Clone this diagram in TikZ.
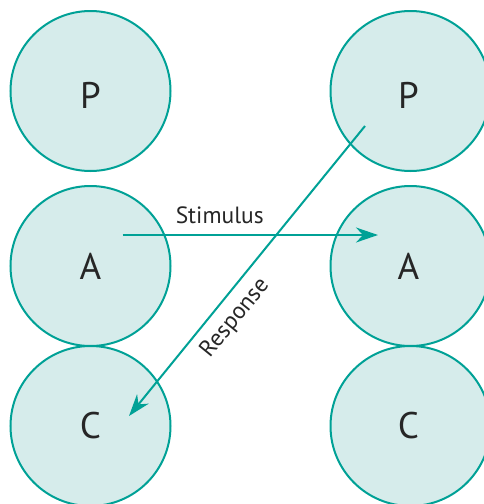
\documentclass[tikz,border=0pt]{standalone}
\usepackage{fontspec}
\setmainfont{PT Sans}
\usetikzlibrary{arrows.meta,calc}
\definecolor{tealline}{RGB}{0,161,150}
\definecolor{tealfill}{RGB}{214,236,235}
\begin{document}
\begin{tikzpicture}[x=1pt,y=-1pt,
  ego/.style={circle,draw=tealline,fill=tealfill,line width=2pt,minimum size=160pt,inner sep=0pt,
    font=\fontsize{37}{40}\selectfont,text=black!85},
  conn/.style={draw=tealline,line width=2pt,-{Stealth[length=22pt,width=15pt,inset=7pt]}},
  lbl/.style={font=\fontsize{23.5}{26}\selectfont,text=black!85,inner sep=0pt}]
\useasboundingbox (0,0) rectangle (484,504);
\node[ego] (P1) at (90.5,91) {\raisebox{-4pt}[\height][\depth]{P}};
\node[ego] (A1) at (90.5,266) {A};
\node[ego] (C1) at (90.5,426) {C};
\node[ego] (P2) at (410.5,91) {\hspace*{-4pt}\raisebox{-4pt}[\height][\depth]{P}};
\node[ego] (A2) at (410.5,266) {\hspace*{-4pt}A};
\node[ego] (C2) at (410.5,426) {\hspace*{-4pt}C};
\coordinate (s1) at ($(A1)+(32.2,-31)$);
\coordinate (s2) at ($(A2)+(-32.5,-31)$);
\coordinate (r1) at ($(P2)+(-45.5,35)$);
\coordinate (r2) at ($(C1)+(38.5,-10)$);
\draw[conn] (s1) -- node[lbl,pos=0.38,anchor=base,yshift=12pt] (stim) {Stimulus} (s2);
\draw[conn] (r1) -- node[lbl,pos=0.618,sloped,below=9pt] (resp) {Response} (r2);
\end{tikzpicture}
\end{document}
